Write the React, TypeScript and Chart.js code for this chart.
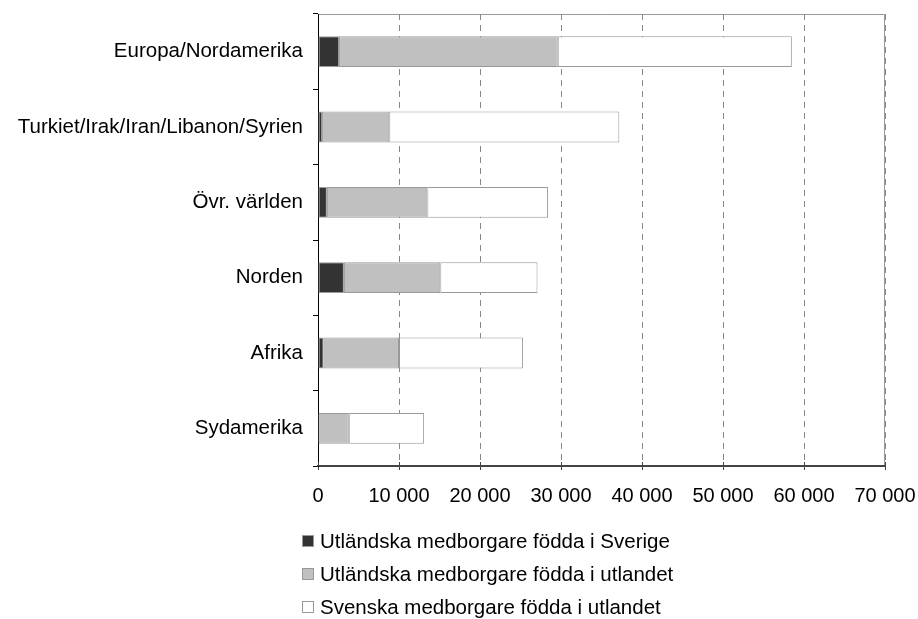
import React, { useEffect, useRef } from "react";
import { Chart, registerables } from "chart.js";

Chart.register(...registerables);

const categories = [
  "Europa/Nordamerika",
  "Turkiet/Irak/Iran/Libanon/Syrien",
  "Övr. världen",
  "Norden",
  "Afrika",
  "Sydamerika",
];
const bornInSweden = [2600, 500, 1100, 3200, 700, 0];
const foreignBornAbroad = [27000, 8300, 12400, 11900, 9300, 3800];
const swedishBornAbroad = [28900, 28400, 14900, 12000, 15300, 9300];
const seriesNames = [
  "Utländska medborgare födda i Sverige",
  "Utländska medborgare födda i utlandet",
  "Svenska medborgare födda i utlandet",
];
const seriesColors = ["#333333", "#c0c0c0", "#ffffff"];
const xTicks = [0, 10000, 20000, 30000, 40000, 50000, 60000, 70000];

const FONT = "'Liberation Sans', Arial, sans-serif";

const fmt = (v: number) => String(v).replace(/\B(?=(\d{3})+(?!\d))/g, " ");

const framePlugin = {
  id: "frame",
  beforeDraw(chart: any) {
    const { ctx, chartArea } = chart;
    ctx.save();
    ctx.strokeStyle = "#999999";
    ctx.lineWidth = 1;
    ctx.beginPath();
    ctx.moveTo(chartArea.left, chartArea.top + 0.5);
    ctx.lineTo(chartArea.right - 0.5, chartArea.top + 0.5);
    ctx.lineTo(chartArea.right - 0.5, chartArea.bottom);
    ctx.stroke();
    ctx.restore();
  },
  afterDraw(chart: any) {
    const { ctx, chartArea } = chart;
    const xs = chart.scales.x;
    ctx.save();
    ctx.strokeStyle = "#444444";
    ctx.lineWidth = 1;
    xTicks.forEach((t) => {
      const px = Math.round(xs.getPixelForValue(t)) + 0.5;
      ctx.beginPath();
      ctx.moveTo(px, chartArea.bottom - 4);
      ctx.lineTo(px, chartArea.bottom);
      ctx.stroke();
    });
    ctx.restore();
  },
};

export default function App() {
  const ref = useRef<HTMLCanvasElement>(null);
  useEffect(() => {
    if (!ref.current) return;
    const datasets = [bornInSweden, foreignBornAbroad, swedishBornAbroad].map((d, i) => ({
      label: seriesNames[i],
      data: d,
      backgroundColor: seriesColors[i],
      borderColor: "#999999",
      borderWidth: 1,
      borderSkipped: false,
      categoryPercentage: 1,
      barPercentage: 0.41,
    }));
    const chart = new Chart(ref.current, {
      type: "bar",
      data: { labels: categories, datasets },
      plugins: [framePlugin],
      options: {
        indexAxis: "y",
        responsive: false,
        animation: false,
        layout: { padding: { top: 14, right: 33, bottom: 103, left: 0 } },
        plugins: { legend: { display: false }, tooltip: { enabled: false } },
        scales: {
          x: {
            stacked: true,
            min: 0,
            max: 70000,
            afterBuildTicks: (s: any) => {
              s.ticks = xTicks.map((v) => ({ value: v }));
            },
            afterFit: (s: any) => {
              s.height = 50;
              s.paddingLeft = 0;
              s.paddingRight = 0;
              s.paddingTop = 0;
              s.paddingBottom = 0;
            },
            ticks: {
              color: "#000",
              font: { family: FONT, size: 20 },
              padding: 14,
              maxRotation: 0,
              autoSkip: false,
              callback: (v: any) => fmt(Number(v)),
            },
            grid: {
              color: (c: any) => (c.tick && c.tick.value === 0 ? "rgba(0,0,0,0)" : "#888888"),
              tickColor: "#444444",
              tickLength: 4,
              lineWidth: 1,
              drawTicks: true,
            },
            border: { display: true, color: "#444444", width: 2, dash: [6, 5] } as any,
          },
          y: {
            stacked: true,
            afterFit: (s: any) => {
              s.width = 318;
              s.paddingLeft = 0;
              s.paddingRight = 0;
              s.paddingTop = 0;
              s.paddingBottom = 0;
            },
            ticks: {
              color: "#000",
              font: { family: FONT, size: 20.5 },
              padding: 10,
            },
            grid: {
              offset: true,
              drawOnChartArea: false,
              tickLength: 5,
              tickColor: "#000",
            },
            border: { display: true, color: "#000", width: 1 },
          },
        },
      },
    });
    return () => chart.destroy();
  }, []);

  return (
    <div style={{ position: "fixed", left: 0, top: 0, width: 918, height: 619, background: "#fff", overflow: "hidden" }}>
      <canvas ref={ref} width={918} height={619} style={{ display: "block" }} />
      <div style={{ position: "absolute", left: 302, top: 524.5, fontFamily: FONT, fontSize: 20.5, color: "#000", whiteSpace: "nowrap" }}>
        {seriesNames.map((n, i) => (
          <div key={n} style={{ display: "flex", alignItems: "center", height: 33 }}>
            <span
              style={{
                display: "inline-block",
                width: 12,
                height: 12,
                background: seriesColors[i],
                border: "1px solid #999",
                marginRight: 6,
                boxSizing: "border-box",
                flex: "none",
              }}
            />
            <span>{n}</span>
          </div>
        ))}
      </div>
    </div>
  );
}
